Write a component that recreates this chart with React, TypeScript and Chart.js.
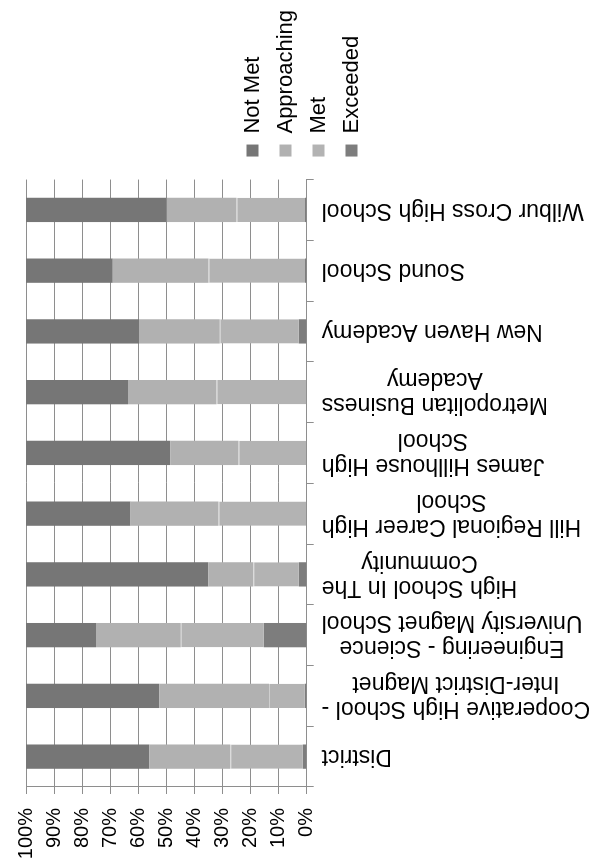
import React, { useEffect, useRef } from 'react';
import { Chart, registerables } from 'chart.js';

Chart.register(...registerables);

// ---------- data ----------
const categories: (string | string[])[] = [
  'District',
  ['Cooperative High School -', 'Inter-District Magnet'],
  ['Engineering - Science', 'University Magnet School'],
  ['High School In The', 'Community'],
  ['Hill Regional Career High', 'School'],
  ['James Hillhouse High', 'School'],
  ['Metropolitan Business', 'Academy'],
  'New Haven Academy',
  'Sound School',
  'Wilbur Cross High School',
];

const exceeded = [1.4, 0.7, 15.3, 2.8, 0, 0.2, 0.2, 2.8, 0.6, 0.6];
const met = [25.8, 12.7, 29.6, 16.2, 31.4, 24.1, 31.9, 28.2, 34.4, 24.4];
const approaching = [28.9, 39.1, 30.2, 16.1, 31.4, 24.3, 31.6, 28.7, 34.1, 24.9];
const notMet = [43.9, 47.5, 24.9, 64.9, 37.2, 51.4, 36.3, 40.3, 30.9, 50.1];

const seriesNames = ['Exceeded', 'Met', 'Approaching', 'Not Met'];
const valueTickStep = 10;
const valueMax = 100;

// ---------- styles ----------
const FONT = '"Liberation Sans", Arial, Helvetica, sans-serif';
const COL_NOT_MET = '#767676';
const COL_APPROACHING = '#b1b1b1';
const COL_MET = '#b3b3b3';
const COL_EXCEEDED = '#7d7d7d';
const GRID = '#8e8e8e';
const CAT_FONT_SIZE = 23;
const CAT_LINE_H = 25;

const catLabelPlugin = {
  id: 'catLabels',
  afterDraw(chart: any) {
    const ctx = chart.ctx;
    const xs = chart.scales.x;
    ctx.save();
    ctx.font = `${CAT_FONT_SIZE}px ${FONT}`;
    ctx.fillStyle = '#000';
    ctx.textBaseline = 'middle';
    ctx.textAlign = 'center';
    const y0 = xs.top + 15;
    categories.forEach((lab, i) => {
      const lines = Array.isArray(lab) ? lab : [lab];
      const x = xs.getPixelForValue(i);
      const widths = lines.map((l) => ctx.measureText(l).width);
      const maxW = Math.max(...widths);
      ctx.save();
      ctx.translate(x, y0);
      ctx.rotate(-Math.PI / 2);
      lines.forEach((l, k) => {
        const off = (k - (lines.length - 1) / 2) * CAT_LINE_H;
        ctx.fillText(l, -maxW / 2, off);
      });
      ctx.restore();
    });
    ctx.restore();
  },
};

export default function App() {
  const ref = useRef<HTMLCanvasElement | null>(null);

  useEffect(() => {
    if (!ref.current) return;
    const chart = new Chart(ref.current, {
      type: 'bar',
      data: {
        labels: categories as any,
        datasets: [
          { label: seriesNames[0], data: exceeded, backgroundColor: COL_EXCEEDED, borderWidth: 0 },
          {
            label: seriesNames[1],
            data: met,
            backgroundColor: COL_MET,
            borderColor: '#cfcfcf',
            borderWidth: { top: 1, right: 0, bottom: 0, left: 0 } as any,
          },
          { label: seriesNames[2], data: approaching, backgroundColor: COL_APPROACHING, borderWidth: 0 },
          { label: seriesNames[3], data: notMet, backgroundColor: COL_NOT_MET, borderWidth: 0 },
        ],
      },
      options: {
        responsive: false,
        animation: false,
        devicePixelRatio: 1,
        layout: { padding: { top: 25, bottom: 10, left: 3, right: 0 } },
        datasets: { bar: { barPercentage: 0.4, categoryPercentage: 1 } },
        plugins: {
          title: { display: false },
          tooltip: { enabled: false },
          legend: {
            position: 'right',
            align: 'center',
            reverse: true,
            labels: {
              boxWidth: 12,
              boxHeight: 12,
              padding: 11,
              color: '#000',
              font: { family: FONT, size: 22 },
              generateLabels: (c: any) =>
                (Chart.defaults.plugins.legend.labels as any)
                  .generateLabels(c)
                  .map((l: any) => ({ ...l, lineWidth: 0, strokeStyle: 'rgba(0,0,0,0)' })),
            },
          },
        },
        scales: {
          x: {
            type: 'category',
            stacked: true,
            offset: true,
            grid: {
              display: true,
              drawOnChartArea: false,
              drawTicks: true,
              tickLength: 7,
              color: GRID,
              offset: true,
            },
            border: { display: true, color: GRID, width: 1 },
            ticks: { display: false },
            afterFit: (s: any) => {
              s.height = 272.3;
            },
          },
          y: {
            stacked: true,
            min: 0,
            max: valueMax,
            grid: { color: GRID, tickLength: 7, drawTicks: true },
            border: { display: true, color: GRID, width: 1 },
            ticks: {
              stepSize: valueTickStep,
              padding: 14,
              color: '#000',
              font: { family: FONT, size: 20 },
              callback: (v: any) => `${v}%`,
            },
            afterFit: (s: any) => {
              s.width = 77;
            },
          },
          pad: {
            type: 'linear',
            position: 'right',
            display: false,
            afterFit: (s: any) => {
              s.width = 12;
            },
          },
        } as any,
      },
      plugins: [catLabelPlugin],
    });
    return () => chart.destroy();
  }, []);

  return (
    <div
      style={{
        position: 'fixed',
        left: 0,
        top: 0,
        width: 867,
        height: 589,
        background: '#fff',
        transformOrigin: '0 0',
        transform: 'translate(0px, 867px) rotate(-90deg)',
      }}
    >
      <canvas ref={ref} width={867} height={589} style={{ display: 'block' }} />
    </div>
  );
}
